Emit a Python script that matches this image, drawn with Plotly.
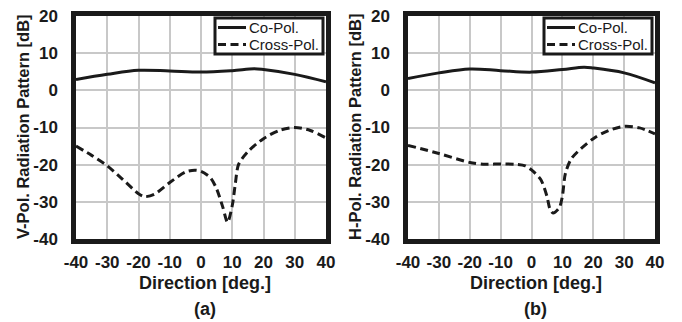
import plotly.graph_objects as go

# ---- data ----
ang_co_a = [-40, -30, -20, -10, 0, 10, 17, 20, 30, 40]
co_a = [2.9, 4.3, 5.4, 5.2, 4.9, 5.3, 5.8, 5.6, 4.3, 2.3]
ang_x_a = [-40, -35, -30, -25, -20, -18, -15, -10, -5, -2, 0, 3, 5, 7, 8.5, 10, 11, 12, 15, 20, 25, 30, 35, 40]
x_a = [-15, -17.5, -20.3, -24, -27.8, -28.6, -28, -24.8, -22, -21.5, -21.8, -23.5, -26.5, -31.5, -35.5, -31, -25, -20, -16.5, -13, -10.8, -10, -10.8, -12.8]

ang_co_b = [-40, -30, -20, -10, 0, 10, 17, 20, 30, 40]
co_b = [3.2, 4.7, 5.75, 5.3, 4.9, 5.6, 6.2, 6.0, 4.7, 2.0]
ang_x_b = [-40, -30, -20, -15, -10, -5, -2, 0, 3, 5, 6, 7, 9, 10, 11, 13, 20, 25, 30, 35, 40]
x_b = [-14.8, -17, -19.4, -19.9, -19.8, -19.9, -20.3, -21.4, -24, -28.5, -32, -33, -31.6, -28.5, -22.3, -18.3, -13, -10.8, -9.7, -10.1, -11.7]

x_ticks = [-40, -30, -20, -10, 0, 10, 20, 30, 40]
x_ticklabels = ["-40", "-30", "-20", "-10", "0", "10", "20", "30", "40"]
y_ticks = [-40, -30, -20, -10, 0, 10, 20]
y_ticklabels = ["-40", "-30", "-20", "-10", "0", "10", "20"]
y_titles = ["V-Pol. Radiation Pattern [dB]", "H-Pol. Radiation Pattern [dB]"]
panel_labels = ["(a)", "(b)"]
x_title = "Direction [deg.]"
series_names = ["Co-Pol.", "Cross-Pol."]

W, H = 682, 322
FONT = "Liberation Sans, Arial, sans-serif"
INK = "#1a1a1a"
DASH = "8px,4.5px"

fig = go.Figure()

panels = [
    (ang_co_a, co_a, ang_x_a, x_a, "x", "y"),
    (ang_co_b, co_b, ang_x_b, x_b, "x2", "y2"),
]
for ac, c, ax_, xv, xa, ya in panels:
    fig.add_trace(go.Scatter(x=ac, y=c, mode="lines", name=series_names[0], showlegend=False,
                             line=dict(color=INK, width=3, shape="spline", smoothing=1.0),
                             xaxis=xa, yaxis=ya))
    fig.add_trace(go.Scatter(x=ax_, y=xv, mode="lines", name=series_names[1], showlegend=False,
                             line=dict(color=INK, width=3, dash=DASH, shape="spline", smoothing=0.8),
                             xaxis=xa, yaxis=ya))

top, bot = 16, 239
axis_common = dict(showgrid=True, gridcolor="#c8c8c8", gridwidth=2,
                   showline=True, linecolor=INK, linewidth=4.5, mirror=True,
                   zeroline=False, ticks="", automargin=False, tickmode="array",
                   tickfont=dict(family=FONT, size=17, color=INK, weight="bold"))

layout = dict(width=W, height=H, margin=dict(l=0, r=0, t=0, b=0, autoexpand=False),
              paper_bgcolor="white", plot_bgcolor="white", showlegend=False,
              font=dict(family=FONT, color="black"))

annotations = []
shapes = []
for i, (l, r) in enumerate([(76, 326), (408, 655)]):
    sfx = "" if i == 0 else "2"
    xdom = [l / W, r / W]
    ydom = [1 - bot / H, 1 - top / H]
    layout["xaxis" + sfx] = dict(axis_common, domain=xdom, range=[-40, 40], tickvals=x_ticks,
                                 ticktext=x_ticklabels,
                                 anchor="y" + sfx, ticklabelstandoff=4, tickangle=0)
    layout["yaxis" + sfx] = dict(axis_common, domain=ydom, range=[-40, 20], tickvals=y_ticks,
                                 ticktext=y_ticklabels,
                                 anchor="x" + sfx, ticklabelstandoff=10)
    cx = (l + r) / 2 + 4
    annotations.append(dict(text="<b>%s</b>" % x_title, x=cx / W, y=1 - 283 / H, xref="paper", yref="paper",
                            showarrow=False, font=dict(family=FONT, size=18, color=INK),
                            xanchor="center", yanchor="middle"))
    annotations.append(dict(text="<b>%s</b>" % panel_labels[i], x=cx / W, y=1 - 309 / H, xref="paper", yref="paper",
                            showarrow=False, font=dict(family=FONT, size=18, color=INK),
                            xanchor="center", yanchor="middle"))
    tx = l - 53
    annotations.append(dict(text="<b>%s</b>" % y_titles[i], x=tx / W, y=1 - 127 / H, xref="paper", yref="paper",
                            showarrow=False, textangle=-90, font=dict(family=FONT, size=16.5, color=INK),
                            xanchor="center", yanchor="middle"))
    # legend box (manual)
    bx0, bx1 = r - 111, r - 3
    by0, by1 = 18, 54
    shapes.append(dict(type="rect", xref="paper", yref="paper",
                       x0=bx0 / W, x1=bx1 / W, y0=1 - by1 / H, y1=1 - by0 / H,
                       line=dict(color=INK, width=3), fillcolor="white", layer="above"))
    rows = [27.5, 44.5]
    for k, yy in enumerate(rows):
        shapes.append(dict(type="line", xref="paper", yref="paper",
                           x0=(bx0 + 3) / W, x1=(bx0 + 31) / W, y0=1 - yy / H, y1=1 - yy / H,
                           line=dict(color=INK, width=3, dash=None if k == 0 else DASH), layer="above"))
        annotations.append(dict(text=series_names[k], x=(bx0 + 32) / W, y=1 - yy / H,
                                xref="paper", yref="paper", showarrow=False,
                                xanchor="left", yanchor="middle",
                                font=dict(family=FONT, size=15, color=INK)))
layout["annotations"] = annotations
layout["shapes"] = shapes
fig.update_layout(**layout)
fig.write_html("out.html")
